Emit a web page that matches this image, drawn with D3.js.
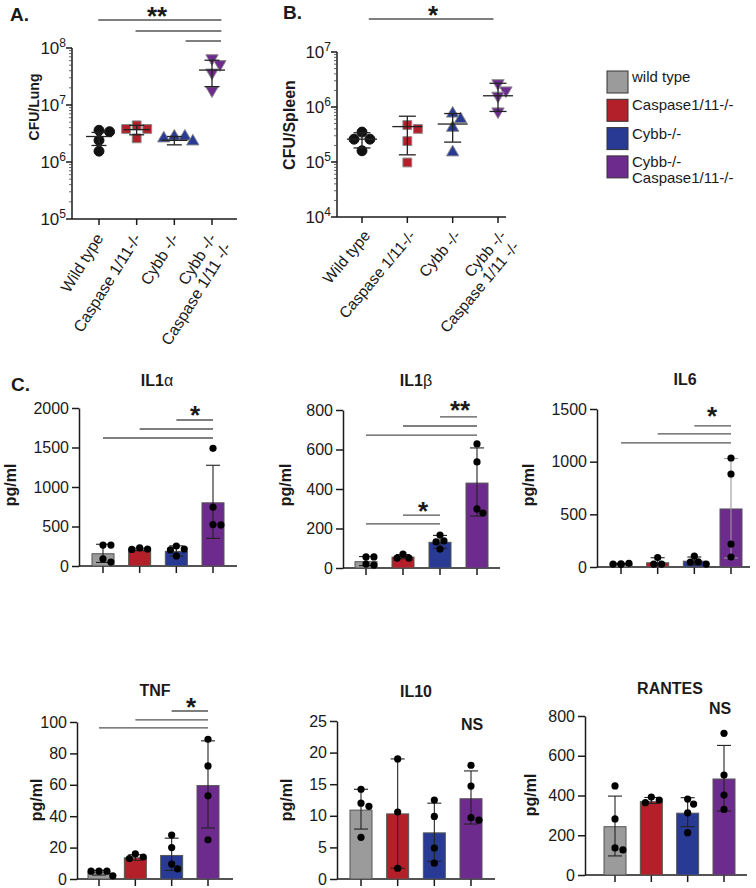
<!DOCTYPE html>
<html><head><meta charset="utf-8">
<script src="https://cdn.jsdelivr.net/npm/d3@7/dist/d3.min.js"></script>
<style>body{margin:0;background:#fff}svg{font-family:Arial,"Liberation Sans",Helvetica,sans-serif}</style>
</head><body><svg id="c" width="756" height="888"></svg>
<script>
// ---------------- DATA ----------------
const groups = ["Wild type", "Caspase 1/11-/-", "Cybb -/-", "Cybb -/-|Caspase 1/11 -/-"];
const legendLabels = ["wild type", "Caspase1/11-/-", "Cybb-/-", "Cybb-/-|Caspase1/11-/-"];
const groupColors = ["#9b9b9b", "#b3202a", "#283a94", "#6e2b8e"];
const markerFill = ["#111111", "#b3202a", "#283a94", "#6e2b8e"];

// Panel A: CFU/Lung
const lungPoints = [[3.6e6, 3.4e6, 2.4e6, 1.55e6], [4.4e6, 3.8e6, 3.8e6, 2.6e6], [2.8e6, 2.8e6, 2.6e6, 2.3e6], [6.6e7, 5.2e7, 3.7e7, 1.8e7]];
const lungMean = [2.8e6, 3.7e6, 2.4e6, 4.1e7];
const lungLow = [1.95e6, 3.0e6, 2.0e6, 2.1e7];
const lungHigh = [3.3e6, 4.4e6, 2.8e6, 6.1e7];
const lungTicks = [1e5, 1e6, 1e7, 1e8];

// Panel B: CFU/Spleen
const spleenPoints = [[3.5e5, 2.6e5, 2.6e5, 1.6e5], [4.7e5, 4.0e5, 2.4e5, 9.8e4], [7.6e5, 6.0e5, 4.2e5, 1.5e5], [2.7e6, 2.0e6, 1.6e6, 8.3e5]];
const spleenMean = [2.6e5, 4.4e5, 4.9e5, 1.6e6];
const spleenLow = [1.8e5, 1.35e5, 2.3e5, 8.3e5];
const spleenHigh = [3.4e5, 6.8e5, 7.6e5, 2.7e6];
const spleenTicks = [1e4, 1e5, 1e6, 1e7];

// Panel C cytokines (pg/ml)
const il1aPoints = [[265, 265, 90, 50], [230, 215, 210], [253, 215, 203, 127], [1490, 745, 525, 520]];
const il1aMean = [155, 205, 185, 800];
const il1aLow = [45, 195, 125, 350];
const il1aHigh = [275, 225, 255, 1275];
const il1aTicks = [0, 500, 1000, 1500, 2000];

const il1bPoints = [[56, 56, 20, 15], [70, 50, 50], [167, 137, 132, 96], [628, 537, 299, 278]];
const il1bMean = [32, 55, 130, 430];
const il1bLow = [12, 47, 100, 263];
const il1bHigh = [58, 68, 165, 608];
const il1bTicks = [0, 200, 400, 600, 800];

const il6Points = [[30, 35, 28, 25], [90, 28, 28], [104, 50, 47, 28], [1035, 883, 218, 95]];
const il6Mean = [28, 40, 55, 551];
const il6Low = [22, 10, 20, 85];
const il6High = [35, 88, 95, 1030];
const il6Ticks = [0, 500, 1000, 1500];

const tnfPoints = [[5, 5, 5, 2], [16, 14, 13], [28, 20, 9.5, 6.5], [89, 72, 53, 25]];
const tnfMean = [4, 13.5, 15, 59.5];
const tnfLow = [2.5, 12, 5.5, 32.5];
const tnfHigh = [5.5, 15.5, 26, 88];
const tnfTicks = [0, 20, 40, 60, 80, 100];

const il10Points = [[14.2, 12, 11.5, 6.6], [19, 10.6, 1.7], [12.5, 9.9, 4.9, 2.5], [18, 14.7, 9.7, 9.3]];
const il10Mean = [10.9, 10.3, 7.3, 12.7];
const il10Low = [7.9, 1.7, 2.8, 8.7];
const il10High = [14.2, 19, 12.0, 17.1];
const il10Ticks = [0, 5, 10, 15, 20, 25];

const rantesPoints = [[448, 282, 136, 126], [392, 377, 364], [382, 357, 313, 213], [713, 503, 402, 330]];
const rantesMean = [243, 369, 311, 483];
const rantesLow = [96, 360, 243, 322];
const rantesHigh = [397, 390, 389, 652];
const rantesTicks = [0, 200, 400, 600, 800];

// ---------------- DRAWING ----------------
const svg = d3.select("#c");
const INK = "#1a1a1a";

function swarm(vals, ys, cx, r) {
  const placed = [];
  return vals.map(v => {
    const y = ys(v);
    const offs = [0];
    for (let k = 1; k < 8; k++) offs.push(k * r * 0.55, -k * r * 0.55);
    for (const o of offs) {
      const x = cx + o;
      if (placed.every(p => (p.x - x) ** 2 + (p.y - y) ** 2 >= (2 * r) ** 2 * 0.9)) {
        placed.push({x, y}); return {x, y};
      }
    }
    placed.push({x: cx, y}); return {x: cx, y};
  });
}

// ---- scatter (log) panels ----
function scatterPanel(o) {
  const g = svg.append("g");
  const y = d3.scaleLog().domain(o.domain).range([o.y0, o.yTop]);
  const x = d3.scalePoint().domain(d3.range(4)).range([o.c0, o.c3]);
  const xi = d3.scaleLinear().domain([0, 3]).range([o.c0, o.c3]);
  g.append("line").attr("x1", o.ax).attr("x2", o.ax).attr("y1", o.y0).attr("y2", o.yTop)
    .attr("stroke", INK).attr("stroke-width", 1.5);
  const minor = [];
  for (let e = Math.log10(o.domain[0]); e < Math.log10(o.domain[1]); e++)
    for (let m = 2; m <= 9; m++) minor.push(m * Math.pow(10, e));
  g.selectAll(".mn").data(minor).join("line")
    .attr("x1", o.ax - 3).attr("x2", o.ax).attr("y1", d => y(d)).attr("y2", d => y(d))
    .attr("stroke", "#444").attr("stroke-width", 0.8);
  g.selectAll(".mj").data(o.ticks).join("line")
    .attr("x1", o.ax - 6).attr("x2", o.ax).attr("y1", d => y(d)).attr("y2", d => y(d))
    .attr("stroke", INK).attr("stroke-width", 1.5);
  const tl = g.selectAll(".tl").data(o.ticks).join("text")
    .attr("x", o.ax - 6).attr("y", d => y(d) + 6).attr("text-anchor", "end")
    .attr("font-size", 17).attr("fill", INK);
  tl.append("tspan").text("10");
  tl.append("tspan").attr("dy", -7).attr("font-size", 12).text(d => Math.round(Math.log10(d)));
  g.append("line").attr("x1", o.ax).attr("x2", o.axEnd).attr("y1", o.y0).attr("y2", o.y0)
    .attr("stroke", INK).attr("stroke-width", 1.5);
  g.selectAll(".xt").data(d3.range(4)).join("line")
    .attr("x1", d => x(d)).attr("x2", d => x(d)).attr("y1", o.y0).attr("y2", o.y0 + 6)
    .attr("stroke", INK).attr("stroke-width", 1.5);
  groups.forEach((lab, i) => {
    const t = g.append("text").attr("transform", `translate(${x(i) + o.lblDx},${o.y0 + o.lblDy}) rotate(${o.lblRot})`)
      .attr("text-anchor", "end").attr("font-size", o.lblSize).attr("fill", INK);
    lab.split("|").forEach((s, k) => t.append("tspan").attr("x", 0).attr("dy", k === 0 ? 0 : "1.1em").text(s));
  });
  g.append("text").attr("transform", `translate(${o.labX},${o.labY}) rotate(-90)`)
    .attr("text-anchor", "middle").attr("font-size", o.labSize).attr("font-weight", "bold")
    .attr("fill", INK).text(o.label);
  const sym = [d3.symbolCircle, d3.symbolSquare, d3.symbolTriangle, d3.symbolTriangle];
  const sz = [78, 78, 66, 66];
  o.points.forEach((vals, i) => {
    const pts = swarm(vals, y, x(i), 4.8);
    g.selectAll(null).data(pts).join("path")
      .attr("d", d3.symbol(sym[i], sz[i]))
      .attr("transform", d => `translate(${d.x},${d.y})` + (i === 3 ? " rotate(180)" : ""))
      .attr("fill", markerFill[i]).attr("stroke", i === 0 ? "#111" : "#8a8a8a").attr("stroke-width", 1);
  });
  d3.range(4).forEach(i => {
    const cx = x(i);
    const ln = (x1, x2, y1, y2) => g.append("line").attr("x1", x1).attr("x2", x2).attr("y1", y1).attr("y2", y2)
      .attr("stroke", "#222").attr("stroke-width", 1.3);
    ln(cx - o.mw / 2, cx + o.mw / 2, y(o.mean[i]), y(o.mean[i]));
    ln(cx, cx, y(o.lo[i]), y(o.hi[i]));
    ln(cx - o.cw / 2, cx + o.cw / 2, y(o.lo[i]), y(o.lo[i]));
    ln(cx - o.cw / 2, cx + o.cw / 2, y(o.hi[i]), y(o.hi[i]));
  });
  o.sig.forEach(s => {
    g.append("line").attr("x1", xi(s[0])).attr("x2", xi(s[1])).attr("y1", s[2]).attr("y2", s[2])
      .attr("stroke", "#555").attr("stroke-width", 1.3);
  });
  g.append("text").attr("x", o.starX).attr("y", o.starY).attr("text-anchor", "middle")
    .attr("font-size", 26).attr("font-weight", "bold").attr("fill", INK).text(o.star);
  g.append("text").attr("x", o.panelX).attr("y", o.panelY).attr("font-size", 19)
    .attr("font-weight", "bold").attr("fill", INK).text(o.panel);
}

scatterPanel({
  domain: [1e5, 1e8], ticks: lungTicks, points: lungPoints, mean: lungMean, lo: lungLow, hi: lungHigh,
  ax: 72, axEnd: 237, y0: 219, yTop: 48, c0: 99, c3: 212, mw: 26, cw: 15,
  lblDx: 5, lblDy: 19, lblRot: -58, lblSize: 16,
  label: "CFU/Lung", labX: 39, labY: 107, labSize: 14,
  sig: [[-0.02, 3.25, 20], [0.97, 3.25, 31], [2.3, 3.24, 41]], star: "**", starX: 157, starY: 25,
  panel: "A.", panelX: 10, panelY: 21
});
scatterPanel({
  domain: [1e4, 1e7], ticks: spleenTicks, points: spleenPoints, mean: spleenMean, lo: spleenLow, hi: spleenHigh,
  ax: 337, axEnd: 506, y0: 217, yTop: 52, c0: 362, c3: 498, mw: 30, cw: 17,
  lblDx: 9, lblDy: 19, lblRot: -50, lblSize: 15.5,
  label: "CFU/Spleen", labX: 295, labY: 125, labSize: 16,
  sig: [[0.15, 2.9, 19]], star: "*", starX: 433, starY: 24,
  panel: "B.", panelX: 283, panelY: 19
});

// legend
const lg = svg.append("g");
legendLabels.forEach((lab, i) => {
  const yy = 71 + i * 28.3;
  lg.append("rect").attr("x", 607).attr("y", yy).attr("width", 21).attr("height", 22)
    .attr("fill", groupColors[i]).attr("stroke", "#333").attr("stroke-width", 1);
  lab.split("|").forEach((s, k) => lg.append("text").attr("x", 632).attr("y", yy + 11 + k * 16.5)
    .attr("font-size", 15).attr("fill", INK).text(s));
});

// ---- bar panels ----
function barPanel(o) {
  const g = svg.append("g");
  const y = d3.scaleLinear().domain([0, o.ticks[o.ticks.length - 1]]).range([o.y0, o.yTop]);
  const x = d3.scalePoint().domain(d3.range(4)).range([o.c0, o.c3]);
  const ax = g.append("g").attr("transform", `translate(${o.ax},0)`)
    .call(d3.axisLeft(y).tickValues(o.ticks).tickSize(7).tickSizeOuter(0).tickPadding(3).tickFormat(d3.format("d")));
  ax.selectAll("path,line").attr("stroke", INK).attr("stroke-width", 1.5);
  ax.selectAll("text").attr("font-size", 16).attr("fill", INK).attr("font-family", "Arial,'Liberation Sans',sans-serif");
  g.append("line").attr("x1", o.ax).attr("x2", o.axEnd).attr("y1", o.y0).attr("y2", o.y0)
    .attr("stroke", INK).attr("stroke-width", 1.5);
  g.selectAll(".xt").data(d3.range(4)).join("line")
    .attr("x1", d => x(d)).attr("x2", d => x(d)).attr("y1", o.y0).attr("y2", o.y0 + 7)
    .attr("stroke", INK).attr("stroke-width", 1.5);
  g.selectAll(".bar").data(o.mean).join("rect")
    .attr("x", (d, i) => x(i) - 11).attr("width", 22)
    .attr("y", d => y(d)).attr("height", d => o.y0 - y(d))
    .attr("fill", (d, i) => groupColors[i]).attr("stroke", "#555").attr("stroke-width", 1);
  o.mean.forEach((m, i) => {
    const cx = x(i), col = (o.errCol && o.errCol[i]) || "#222";
    const ln = (x1, x2, y1, y2) => g.append("line").attr("x1", x1).attr("x2", x2).attr("y1", y1).attr("y2", y2)
      .attr("stroke", col).attr("stroke-width", 1.1);
    ln(cx, cx, y(o.lo[i]), y(o.hi[i]));
    ln(cx - 7, cx + 7, y(o.lo[i]), y(o.lo[i]));
    ln(cx - 7, cx + 7, y(o.hi[i]), y(o.hi[i]));
  });
  o.points.forEach((vals, i) => {
    const pts = swarm(vals, y, x(i), 3.6);
    g.selectAll(null).data(pts).join("circle")
      .attr("cx", d => d.x).attr("cy", d => d.y).attr("r", 3.6).attr("fill", "#000");
  });
  const t = g.append("text").attr("x", o.titleX).attr("y", o.titleY).attr("text-anchor", "middle")
    .attr("font-size", 16).attr("font-weight", "bold").attr("fill", INK);
  const parts = o.title.split("_");
  t.append("tspan").text(parts[0]);
  if (parts[1]) t.append("tspan").attr("font-weight", "normal").text(parts[1]);
  g.append("text").attr("transform", `translate(${o.labX},${o.labY}) rotate(-90)`)
    .attr("text-anchor", "middle").attr("font-size", 16).attr("font-weight", "bold")
    .attr("fill", INK).text("pg/ml");
  (o.sig || []).forEach(s => {
    g.append("line").attr("x1", x(s[0])).attr("x2", x(s[1])).attr("y1", y(s[2])).attr("y2", y(s[2]))
      .attr("stroke", "#555").attr("stroke-width", 1.3);
  });
  (o.stars || []).forEach(s => {
    g.append("text").attr("x", s[0]).attr("y", s[1]).attr("text-anchor", "middle")
      .attr("font-size", s[3] || 26).attr("font-weight", "bold").attr("fill", INK).text(s[2]);
  });
}

barPanel({ ticks: il1aTicks, points: il1aPoints, mean: il1aMean, lo: il1aLow, hi: il1aHigh,
  ax: 79, axEnd: 237, y0: 566, yTop: 408, c0: 103, c3: 213, title: "IL1_α", titleX: 157, titleY: 386, labX: 16, labY: 485,
  sig: [[2, 3, 1848], [1, 3, 1734], [0, 3, 1620]], stars: [[195, 424, "*"]] });
barPanel({ ticks: il1bTicks, points: il1bPoints, mean: il1bMean, lo: il1bLow, hi: il1bHigh,
  ax: 343, axEnd: 500, y0: 568, yTop: 410, c0: 366, c3: 477, title: "IL1_β", titleX: 416, titleY: 386, labX: 291, labY: 485,
  sig: [[2, 3, 765], [1, 3, 719], [0, 3, 673], [1, 2, 268], [0, 2, 223]],
  stars: [[460, 419, "**"], [423, 520, "*"]] });
barPanel({ ticks: il6Ticks, points: il6Points, mean: il6Mean, lo: il6Low, hi: il6High, errCol: [null, null, null, "#9a9a9a"],
  ax: 597, axEnd: 750, y0: 567, yTop: 409, c0: 621, c3: 731, title: "IL6", titleX: 685, titleY: 385, labX: 534, labY: 485,
  sig: [[2, 3, 1339], [1, 3, 1263], [0, 3, 1178]], stars: [[712, 425, "*"]] });
barPanel({ ticks: tnfTicks, points: tnfPoints, mean: tnfMean, lo: tnfLow, hi: tnfHigh,
  ax: 77, axEnd: 233, y0: 879, yTop: 722, c0: 99, c3: 208, title: "TNF", titleX: 155, titleY: 696, labX: 42, labY: 800,
  sig: [[2, 3, 107], [1, 3, 101.3], [0, 3, 96.2]], stars: [[191, 716, "*"]] });
barPanel({ ticks: il10Ticks, points: il10Points, mean: il10Mean, lo: il10Low, hi: il10High,
  ax: 337, axEnd: 495, y0: 879, yTop: 721, c0: 361, c3: 471, title: "IL10", titleX: 416, titleY: 697, labX: 292, labY: 800,
  stars: [[472, 730, "NS", 16]] });
barPanel({ ticks: rantesTicks, points: rantesPoints, mean: rantesMean, lo: rantesLow, hi: rantesHigh,
  ax: 585, axEnd: 747, y0: 875, yTop: 716, c0: 615, c3: 724, title: "RANTES", titleX: 670, titleY: 694, labX: 536, labY: 795,
  stars: [[720, 714, "NS", 16]] });

svg.append("text").attr("x", 11).attr("y", 391).attr("font-size", 19).attr("font-weight", "bold").attr("fill", INK).text("C.");
</script></body></html>
